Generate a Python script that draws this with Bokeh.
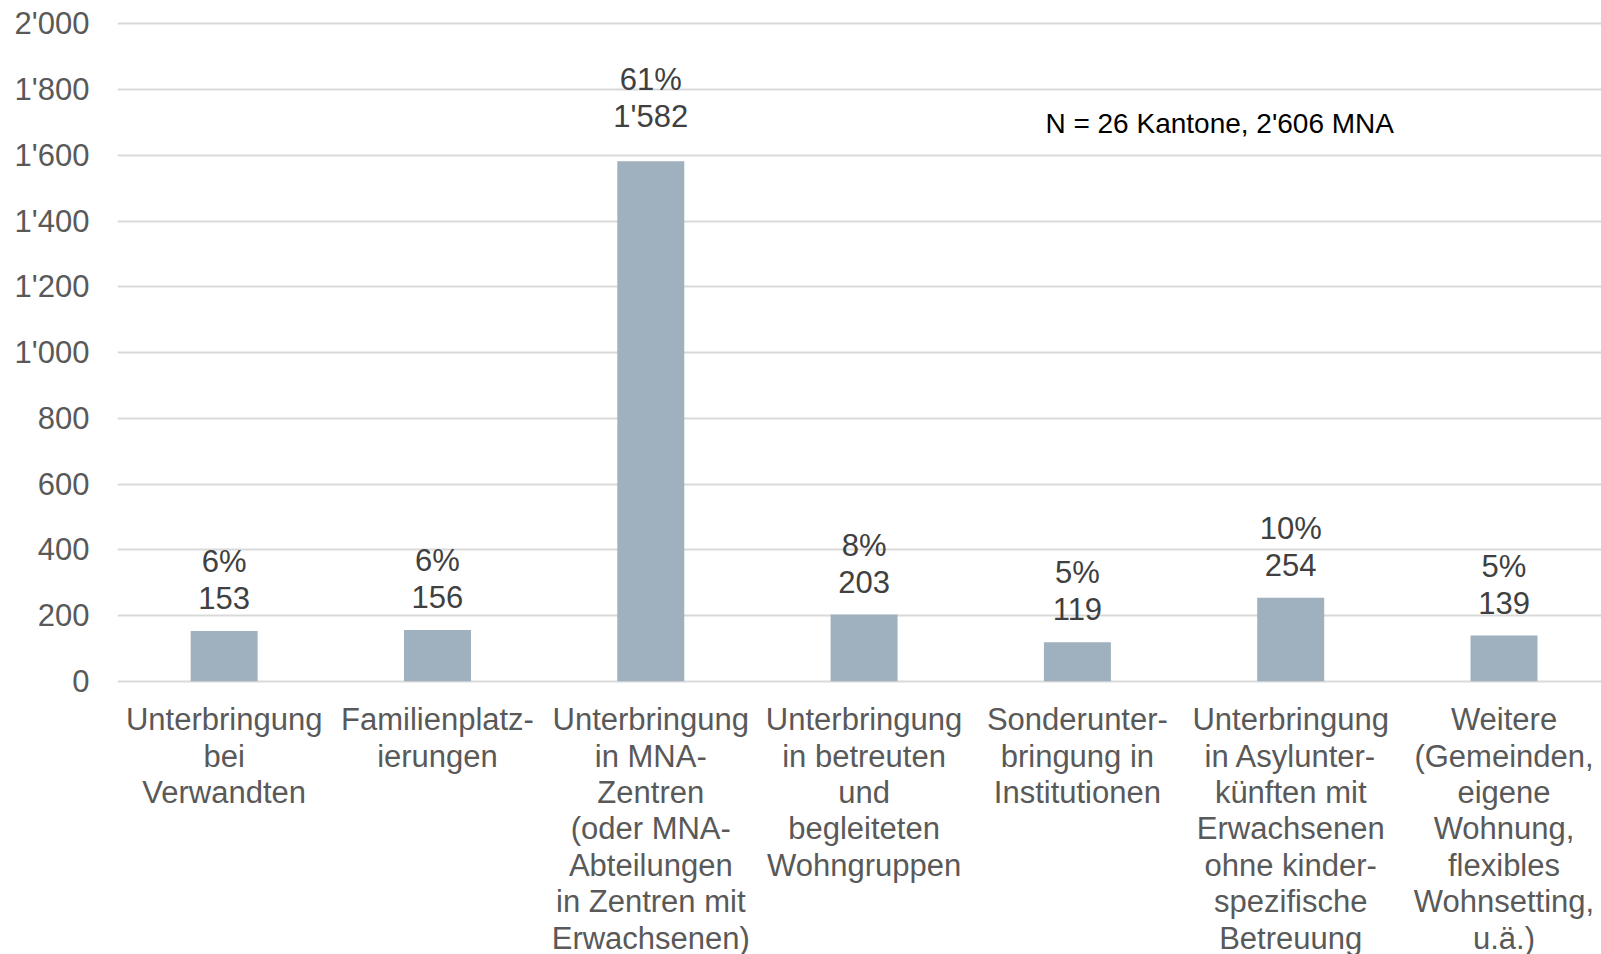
from bokeh.plotting import figure
from bokeh.models import Range1d, FixedTicker, Label, ColumnDataSource
from bokeh.core.properties import value
from bokeh.embed import file_html
from bokeh.resources import INLINE

# ---- data ----
categories = [
    "Unterbringung\nbei\nVerwandten",
    "Familienplatz-\nierungen",
    "Unterbringung\nin MNA-\nZentren\n(oder MNA-\nAbteilungen\nin Zentren mit\nErwachsenen)",
    "Unterbringung\nin betreuten\nund\nbegleiteten\nWohngruppen",
    "Sonderunter-\nbringung in\nInstitutionen",
    "Unterbringung\nin Asylunter-\nkünften mit\nErwachsenen\nohne kinder-\nspezifische\nBetreuung",
    "Weitere\n(Gemeinden,\neigene\nWohnung,\nflexibles\nWohnsetting,\nu.ä.)",
]
counts = [153, 156, 1582, 203, 119, 254, 139]
percent_labels = ["6%", "6%", "61%", "8%", "5%", "10%", "5%"]
y_ticks = [0, 200, 400, 600, 800, 1000, 1200, 1400, 1600, 1800, 2000]
y_tick_labels = ["0", "200", "400", "600", "800", "1'000", "1'200", "1'400", "1'600", "1'800", "2'000"]
note_text = "N = 26 Kantone, 2'606 MNA"

# ---- style ----
FONT = "Liberation Sans"
FS = "31px"
BAR_COLOR = "#9FB1BE"
GRID_COLOR = "#D9D9D9"
AXIS_TEXT = "#595959"
LABEL_TEXT = "#404040"
label_gap_px = [33, 33, 45, 33, 33, 33, 33]

def fmt(n):
    return f"{n:,}".replace(",", "'")

xs = [i + 0.5 for i in range(len(counts))]
src = ColumnDataSource(dict(
    x=xs,
    top=counts,
    num=[fmt(c) for c in counts],
    pct=percent_labels,
    off_num=[-g for g in label_gap_px],
    off_pct=[-g - 36.5 for g in label_gap_px],
))

p = figure(
    width=1601, height=954,
    x_range=Range1d(0, 6.957),
    y_range=Range1d(-831, 2010),
    output_backend="svg", toolbar_location=None,
    x_axis_location=None,
    min_border_left=117, min_border_right=0, min_border_top=20, min_border_bottom=0,
)
p.outline_line_color = None
p.background_fill_color = "white"
p.border_fill_color = "white"

ticker = FixedTicker(ticks=y_ticks)
p.yaxis.ticker = ticker
p.yaxis.major_label_overrides = {t: l for t, l in zip(y_ticks, y_tick_labels)}
p.yaxis.axis_line_color = None
p.yaxis.major_tick_line_color = None
p.yaxis.minor_tick_line_color = None
p.yaxis.major_label_standoff = 22
p.yaxis.major_label_text_font = FONT
p.yaxis.major_label_text_font_size = FS
p.yaxis.major_label_text_color = AXIS_TEXT

p.ygrid.ticker = ticker
p.ygrid.grid_line_color = GRID_COLOR
p.ygrid.grid_line_width = 2
p.xgrid.grid_line_color = None

p.vbar(x="x", top="top", width=0.314, source=src, fill_color=BAR_COLOR, line_color=None)

p.text(x="x", y="top", text="num", source=src, y_offset="off_num",
       text_align="center", text_baseline="alphabetic",
       text_font=value(FONT), text_font_size=FS, text_color=LABEL_TEXT)
p.text(x="x", y="top", text="pct", source=src, y_offset="off_pct",
       text_align="center", text_baseline="alphabetic",
       text_font=value(FONT), text_font_size=FS, text_color=LABEL_TEXT)

# category labels under the bars
src_cat = ColumnDataSource(dict(x=xs, y=[0] * len(xs), cat=categories))
p.text(x="x", y="y", text="cat", source=src_cat, y_offset=21,
       text_align="center", text_baseline="top", text_line_height=1.04,
       text_font=value(FONT), text_font_size=FS, text_color=AXIS_TEXT)

p.add_layout(Label(x=4.35, y=1697, text=note_text, text_baseline="alphabetic",
                   text_font=FONT, text_font_size="28px", text_color="black"))

open("out.html", "w").write(file_html(p, INLINE))
